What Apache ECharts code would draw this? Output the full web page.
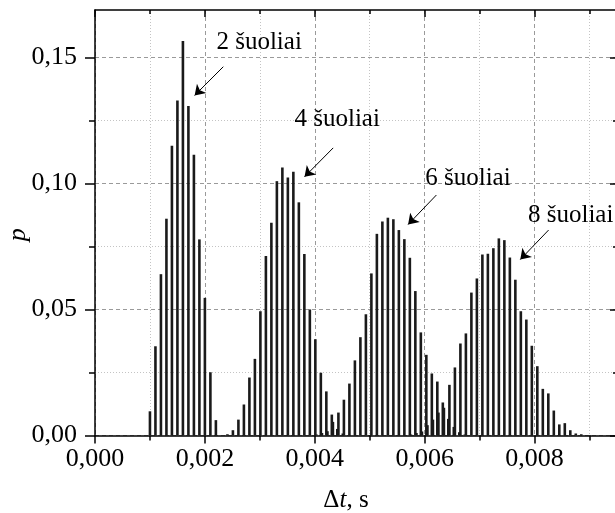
<!DOCTYPE html>
<html>
<head>
<meta charset="utf-8">
<script src="https://cdn.jsdelivr.net/npm/echarts@6/dist/echarts.min.js"></script>
<style>
html, body { margin: 0; padding: 0; background: #fff; }
#main { width: 615px; height: 513px; }
</style>
</head>
<body>
<div id="main"></div>
<script>
// histogramos stulpelio plotis, s
var binWidth = 0.0001;

// 2 šuoliai
var jumps2Start = 0.0010;
var jumps2 = [0.0096, 0.0354, 0.064, 0.086, 0.1149, 0.1329, 0.1565, 0.1307, 0.1114, 0.0778,
    0.0546, 0.0251, 0.0061];

// 4 šuoliai
var jumps4Start = 0.00241;
var jumps4 = [0.0005, 0.0021, 0.0063, 0.0123, 0.023, 0.0304, 0.0493, 0.0712, 0.0844, 0.1009,
    0.1063, 0.1024, 0.1046, 0.0925, 0.072, 0.05, 0.0382, 0.0249, 0.0175, 0.0083,
    0.0026, 0.0008];

// 6 šuoliai
var jumps6Start = 0.00403;
var jumps6 = [0.0004, 0.001, 0.0017, 0.0054, 0.0091, 0.0142, 0.0206, 0.0298, 0.039, 0.0481,
    0.0643, 0.08, 0.0849, 0.0864, 0.0858, 0.0815, 0.0779, 0.0705, 0.0573, 0.0409,
    0.032, 0.0246, 0.0214, 0.0131, 0.0066, 0.0034, 0.0013, 0.0004];

// 8 šuoliai
var jumps8Start = 0.00575;
var jumps8 = [0.0004, 0.001, 0.0016, 0.0041, 0.0063, 0.0091, 0.011, 0.0201, 0.027, 0.0365,
    0.0405, 0.0567, 0.0623, 0.0718, 0.0721, 0.0743, 0.0782, 0.0775, 0.0706, 0.0618,
    0.0493, 0.046, 0.0356, 0.0275, 0.0185, 0.0167, 0.0099, 0.0044, 0.0049, 0.0021,
    0.0008, 0.0005, 0.0002];

// ašių žymės
var xMajor = [0, 0.002, 0.004, 0.006, 0.008];
var xMinor = [0.001, 0.003, 0.005, 0.007, 0.009];
var yMajor = [0, 0.05, 0.10, 0.15];
var yMinor = [0.025, 0.075, 0.125];

// užrašai ir rodyklės (duomenų koordinatėmis)
var labelNames = ['2 šuoliai', '4 šuoliai', '6 šuoliai', '8 šuoliai'];
var labelPos = [[0.00221, 0.1561], [0.00363, 0.1255], [0.00601, 0.1021], [0.00788, 0.0874]];
var arrowFrom = [[0.002335, 0.1463], [0.004335, 0.1141], [0.006213, 0.0954], [0.008255, 0.0815]];
var arrowTo = [[0.001813, 0.1349], [0.003813, 0.1026], [0.005698, 0.0837], [0.00774, 0.0698]];

var FONT = 'Liberation Serif';
var xMin = 0, xMax = 0.0095, yMin = 0, yMax = 0.1688;

function toBars(start, values) {
    return values.map(function (v, i) {
        return [+(start + i * binWidth).toFixed(6), v];
    });
}

function comma(digits) {
    return function (v) { return v.toFixed(digits).replace('.', ','); };
}

function xAxisOf(position, ticks, len, inside, extra) {
    var axis = {
        type: 'value', position: position, min: xMin, max: xMax, interval: 0.002,
        axisLine: { show: true, onZero: false, lineStyle: { color: '#000', width: 1.5 } },
        axisTick: { show: true, inside: inside, customValues: ticks, length: len, lineStyle: { color: '#000', width: 1.5 } },
        axisLabel: { show: false },
        splitLine: { show: false }
    };
    return Object.assign(axis, extra || {});
}

function yAxisOf(position, ticks, len, inside, extra) {
    var axis = {
        type: 'value', position: position, min: yMin, max: yMax, interval: 0.05,
        axisLine: { show: true, onZero: false, lineStyle: { color: '#000', width: 1.5 } },
        axisTick: { show: true, inside: inside, customValues: ticks, length: len, lineStyle: { color: '#000', width: 1.5 } },
        axisLabel: { show: false },
        splitLine: { show: false }
    };
    return Object.assign(axis, extra || {});
}

var arrows = arrowFrom.map(function (a, i) {
    return [{ coord: a }, { coord: arrowTo[i] }];
});
var labels = labelNames.map(function (n, i) {
    return { name: n, coord: labelPos[i] };
});

function barSeries(name, data, withNotes) {
    var s = {
        name: name,
        type: 'bar',
        xAxisIndex: 0,
        yAxisIndex: 0,
        barWidth: 2.6,
        barGap: '-100%',
        itemStyle: { color: '#1a1a1a' },
        silent: true,
        data: data
    };
    if (withNotes) {
        s.markLine = {
            silent: true,
            symbol: ['none', 'arrow'],
            symbolSize: 10,
            lineStyle: { color: '#000', width: 1, type: 'solid' },
            label: { show: false },
            data: arrows
        };
        s.markPoint = {
            silent: true,
            symbol: 'circle',
            symbolSize: 0,
            label: {
                show: true, position: 'right', distance: 0, formatter: '{b}',
                fontFamily: FONT, fontSize: 25, color: '#000'
            },
            data: labels
        };
    }
    return s;
}

var chart = echarts.init(document.getElementById('main'), null, { renderer: 'canvas' });
chart.setOption({
    animation: false,
    backgroundColor: '#fff',
    grid: { left: 95, right: -2, top: 10, bottom: 77.5, containLabel: false, outerBoundsMode: 'none' },
    xAxis: [
        xAxisOf('bottom', xMajor, 8, false, {
            axisLabel: {
                show: true, customValues: xMajor, formatter: comma(3), margin: 11,
                fontFamily: FONT, fontSize: 26, color: '#000'
            },
            splitLine: { show: true, lineStyle: { color: '#9a9a9a', width: 1, type: [4, 3] } },
            name: '{n|Δ}{i|t}{n|, s}',
            nameLocation: 'middle',
            nameGap: 52,
            nameMoveOverlap: false,
            nameTextStyle: {
                padding: [0, 20, 0, 0],
                rich: {
                    n: { fontFamily: FONT, fontSize: 25, color: '#000' },
                    i: { fontFamily: FONT, fontSize: 25, fontStyle: 'italic', color: '#000' }
                }
            }
        }),
        xAxisOf('bottom', xMinor, 5, false, {
            axisLine: { show: false, onZero: false },
            splitLine: { show: true, lineStyle: { color: '#c4c4c4', width: 1, type: [1, 2] } }
        }),
        xAxisOf('top', xMajor, 7, true),
        xAxisOf('top', xMinor, 4, true, { axisLine: { show: false, onZero: false } })
    ],
    yAxis: [
        yAxisOf('left', yMajor, 10, false, {
            axisLabel: {
                show: true, customValues: yMajor, formatter: comma(2), margin: 18,
                fontFamily: FONT, fontSize: 26, color: '#000'
            },
            splitLine: { show: true, lineStyle: { color: '#9a9a9a', width: 1, type: [4, 3] } },
            name: 'p',
            nameLocation: 'middle',
            nameGap: 64,
            nameMoveOverlap: false,
            nameTextStyle: { fontFamily: FONT, fontSize: 26, fontStyle: 'italic', color: '#000', padding: [0, 24, 0, 0] }
        }),
        yAxisOf('left', yMinor, 6, false, {
            axisLine: { show: false, onZero: false },
            splitLine: { show: true, lineStyle: { color: '#c4c4c4', width: 1, type: [1, 2] } }
        }),
        yAxisOf('right', yMajor, 7, true),
        yAxisOf('right', yMinor, 4, true, { axisLine: { show: false, onZero: false } })
    ],
    series: [
        barSeries('2 šuoliai', toBars(jumps2Start, jumps2), true),
        barSeries('4 šuoliai', toBars(jumps4Start, jumps4)),
        barSeries('6 šuoliai', toBars(jumps6Start, jumps6)),
        barSeries('8 šuoliai', toBars(jumps8Start, jumps8))
    ]
});
</script>
</body>
</html>
